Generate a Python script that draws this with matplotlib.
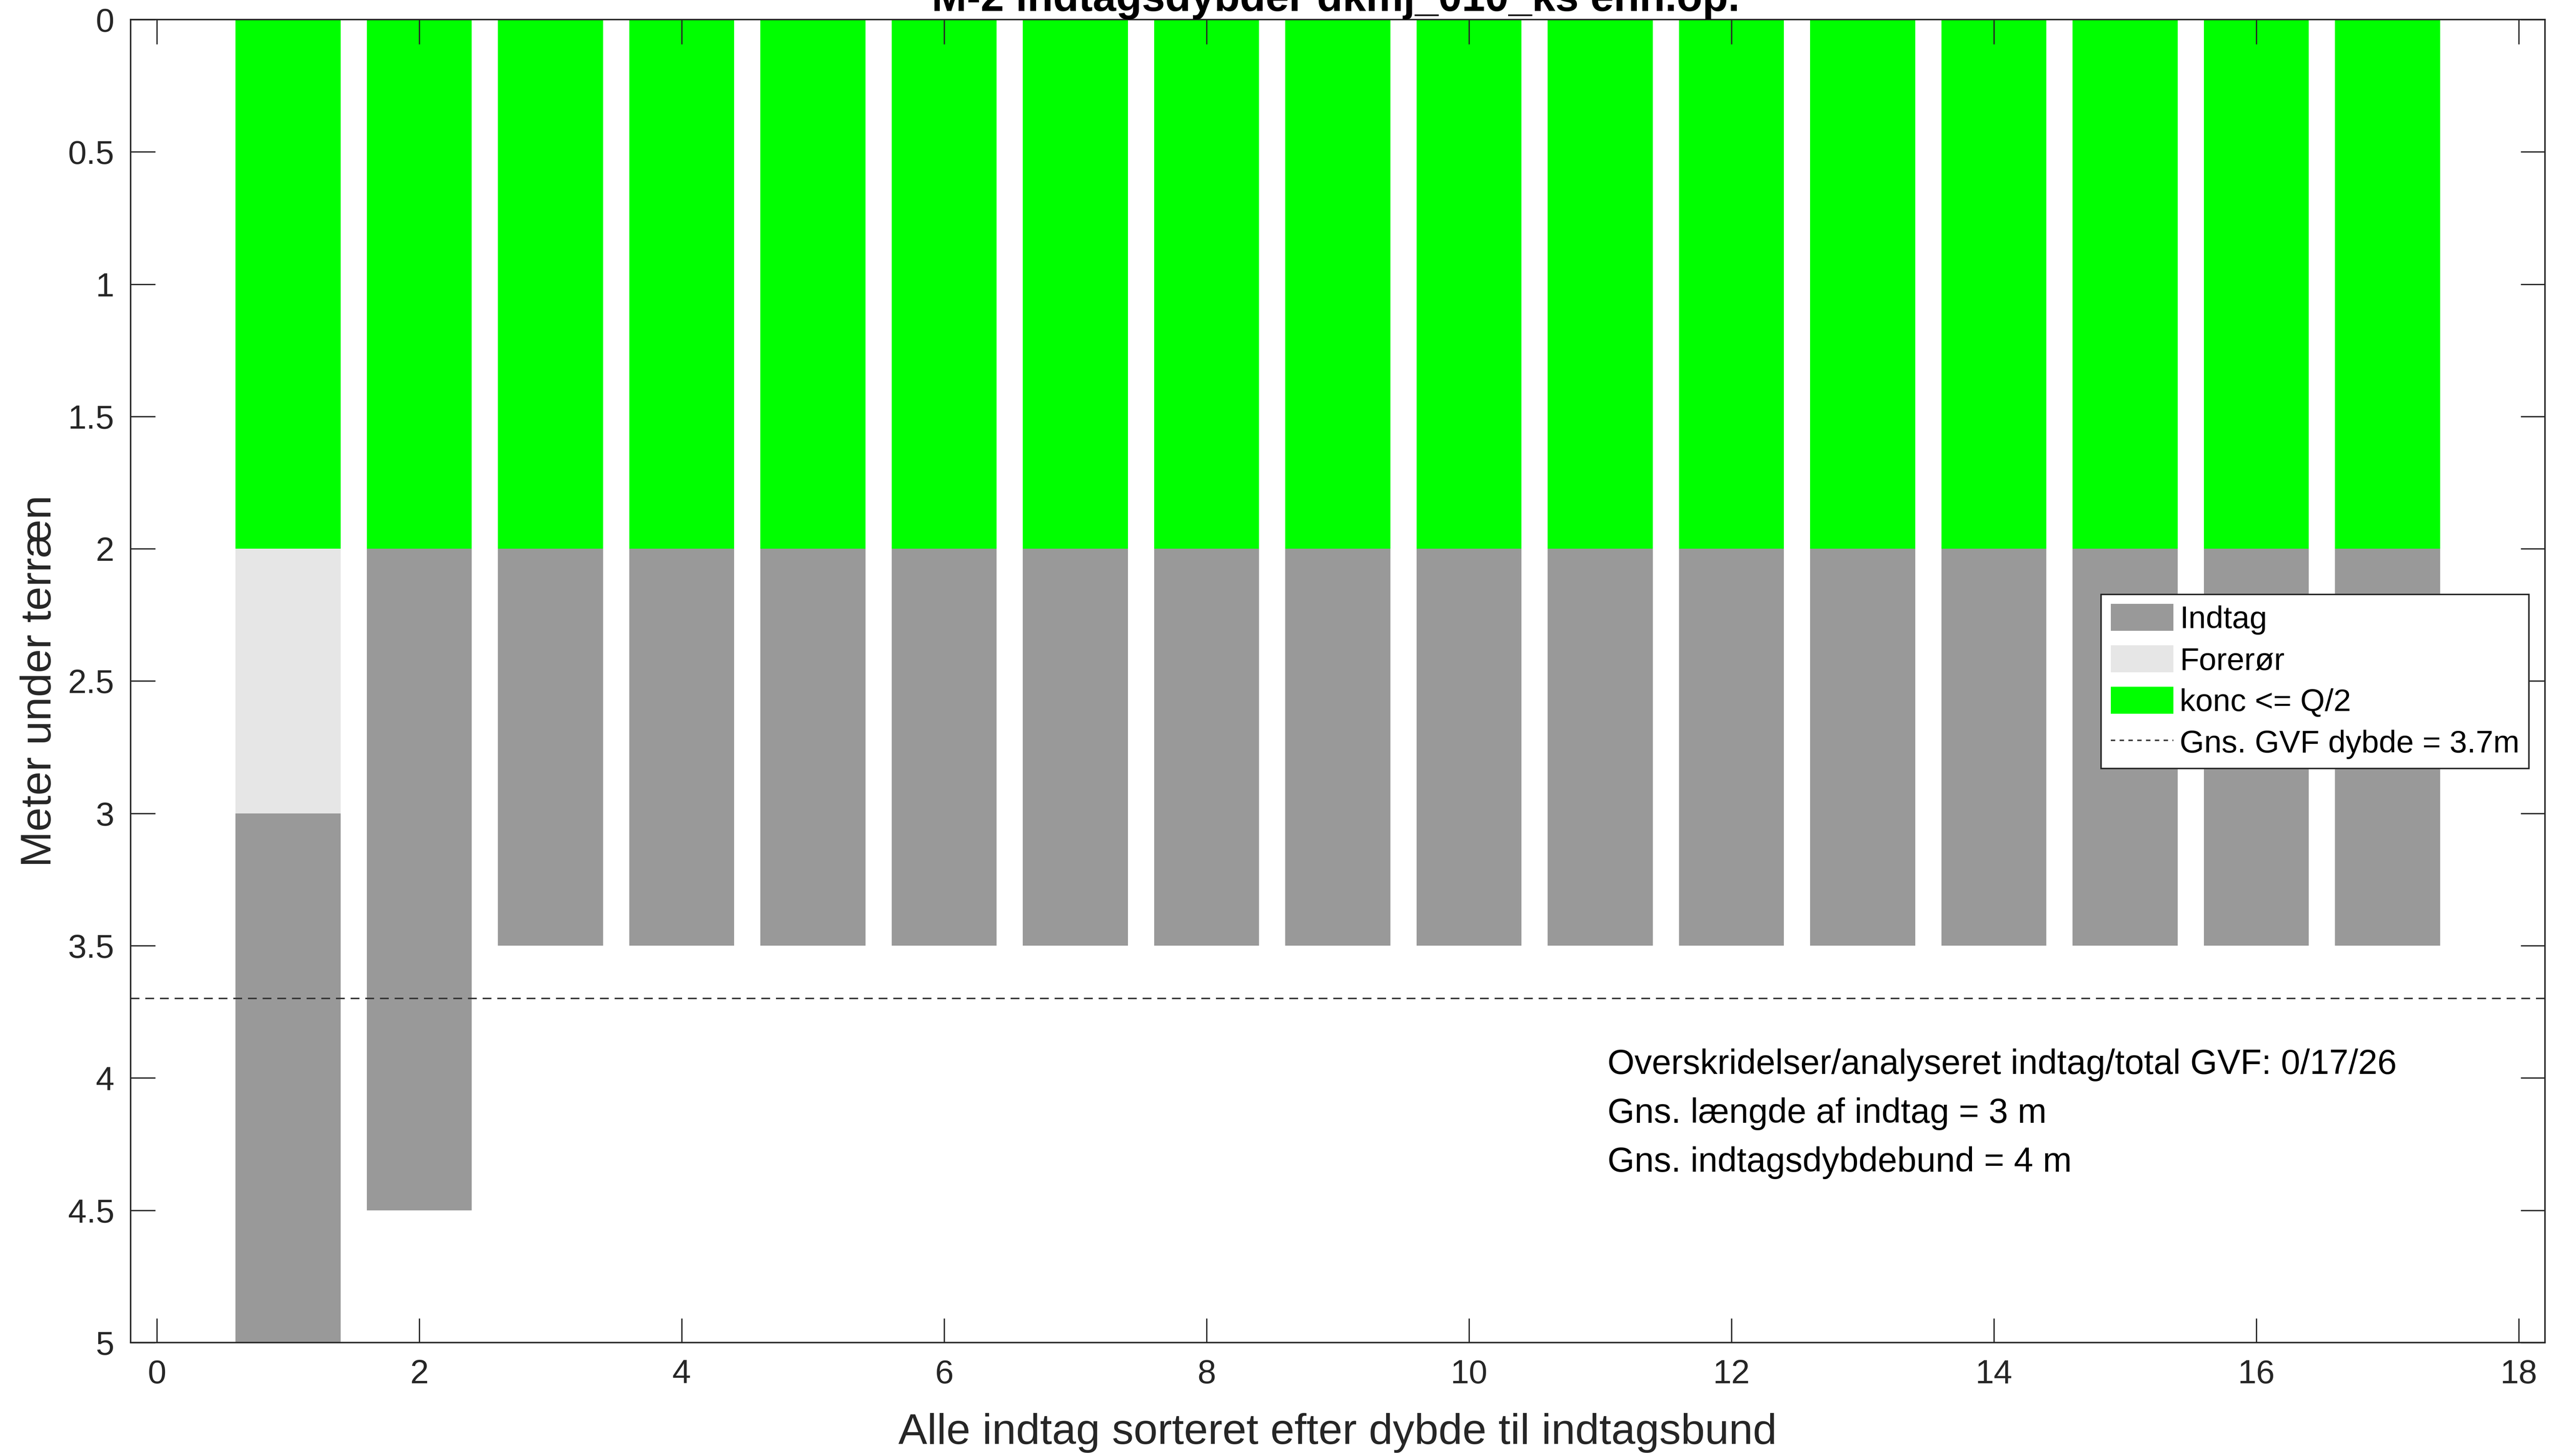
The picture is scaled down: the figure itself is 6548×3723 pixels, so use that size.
import matplotlib
matplotlib.use("Agg")
import matplotlib.pyplot as plt
from matplotlib.patches import Patch
from matplotlib.lines import Line2D
import numpy as np

plt.rcParams['font.family'] = ['Liberation Sans', 'DejaVu Sans']

# ---- data ----
positions = list(range(1, 18))
konc_top = [0.0] * 17
konc_bottom = [2.0] * 17
forer_top = [2.0] + [2.0] * 16
forer_bottom = [3.0] + [2.0] * 16
indtag_top = [3.0, 2.0] + [2.0] * 15
indtag_bottom = [5.0, 4.5] + [3.5] * 15
gvf_mean_depth = 3.7

title = "M-2 indtagsdybder dkmj_010_ks enh.op."
xlabel = "Alle indtag sorteret efter dybde til indtagsbund"
ylabel = "Meter under terræn"
legend_labels = ["Indtag", "Forerør", "konc <= Q/2", "Gns. GVF dybde = 3.7m"]
info_lines = ["Overskridelser/analyseret indtag/total GVF: 0/17/26",
              "Gns. længde af indtag = 3 m",
              "Gns. indtagsdybdebund = 4 m"]
xticks = list(range(0, 19, 2))
yticks = [0, 0.5, 1, 1.5, 2, 2.5, 3, 3.5, 4, 4.5, 5]

c_green = "#00ff00"
c_indtag = "#999999"
c_forer = "#e6e6e6"

W, H, DPI = 6549, 3723, 300
fig = plt.figure(figsize=(W / DPI, H / DPI), dpi=DPI)
ax = fig.add_axes([0.0510, 0.0779, 0.9936 - 0.0510, 0.9866 - 0.0779])

x = np.array(positions)
bw = 0.8
ax.bar(x, np.array(konc_bottom) - np.array(konc_top), bottom=konc_top, width=bw,
       color=c_green, edgecolor='none')
ax.bar(x, np.array(forer_bottom) - np.array(forer_top), bottom=forer_top, width=bw,
       color=c_forer, edgecolor='none')
ax.bar(x, np.array(indtag_bottom) - np.array(indtag_top), bottom=indtag_top, width=bw,
       color=c_indtag, edgecolor='none')
ax.axhline(gvf_mean_depth, color='#333333', linestyle=(0, (6, 4)), linewidth=0.9)

ax.set_xlim(-0.2, 18.2)
ax.set_ylim(5, 0)
ax.set_xticks(xticks)
ax.set_yticks(yticks)
ax.set_yticklabels(["0", "0.5", "1", "1.5", "2", "2.5", "3", "3.5", "4", "4.5", "5"])
ax.tick_params(direction='in', top=True, right=True, length=15, width=0.8,
               labelsize=20.5, colors='#262626', pad=10)
for s in ax.spines.values():
    s.set_color('#262626')
    s.set_linewidth(0.9)

ax.set_xlabel(xlabel, fontsize=26.5, color='#262626', labelpad=14)
ax.set_ylabel(ylabel, fontsize=26.5, color='#262626', labelpad=5)

fig.text(0.5215, 1 - 28 / H, title, ha='center', va='baseline', fontsize=25.8,
         fontweight='bold', color='black')

handles = [Patch(facecolor=c_indtag, edgecolor='none'),
           Patch(facecolor=c_forer, edgecolor='none'),
           Patch(facecolor=c_green, edgecolor='none'),
           Line2D([0], [0], color='#333333', linestyle=(0, (3, 3)), linewidth=0.9)]
leg = ax.legend(handles, legend_labels, loc='upper right',
                bbox_to_anchor=(0.9934, 0.5655), fontsize=19.3, frameon=True,
                fancybox=False, edgecolor='#262626', framealpha=1,
                handlelength=2.0, handleheight=0.95, handletextpad=0.2,
                labelspacing=0.33, borderpad=0.3, borderaxespad=0.0)
leg.get_frame().set_linewidth(0.9)

for i, line in enumerate(info_lines):
    ax.text((4110 - 334) / (6507 - 334), 1 - (2723 - 50 + i * 125) / 3383,
            line, transform=ax.transAxes, ha='left', va='center', fontsize=21.3,
            color='black')

fig.savefig("out.png", dpi=DPI)
